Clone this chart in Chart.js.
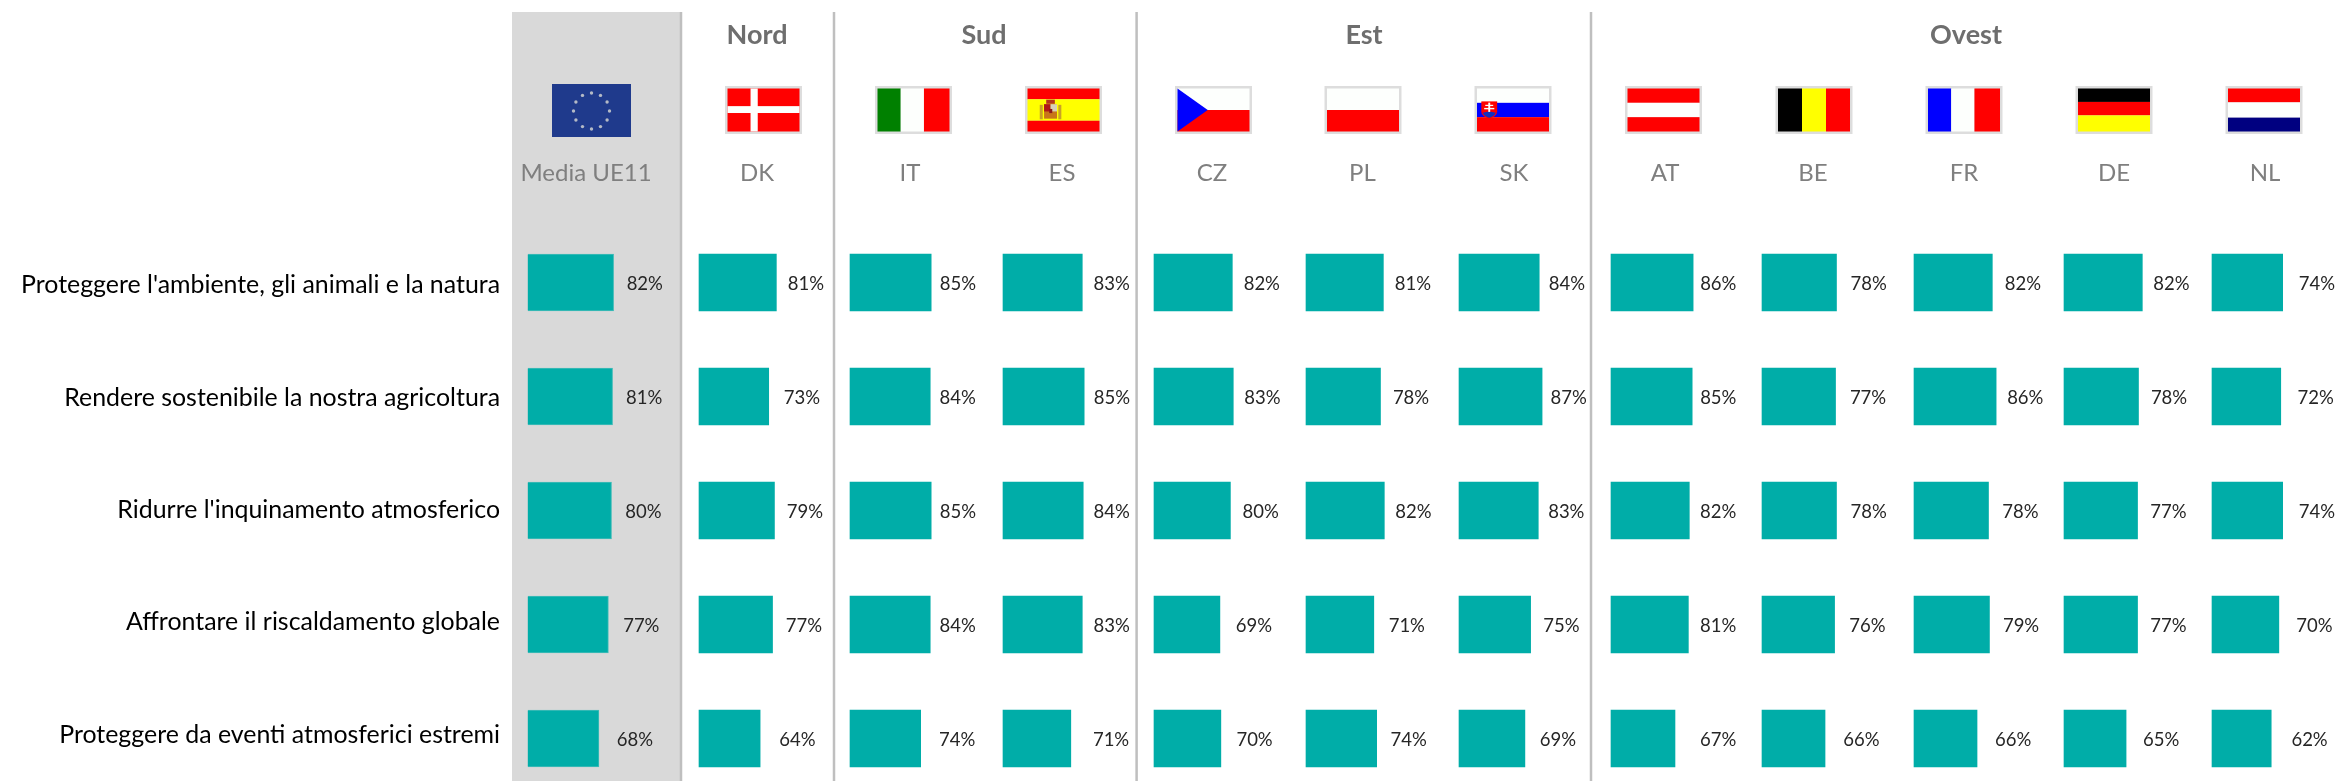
<!DOCTYPE html>
<html lang="it">
<head>
<meta charset="utf-8">
<title>Priorità ambientali</title>
<style>
html,body{margin:0;padding:0;background:#fff;width:2338px;height:781px;overflow:hidden}
canvas{display:block}
</style>
<script src="https://cdn.jsdelivr.net/npm/chart.js@4/dist/chart.umd.min.js"></script>
</head>
<body>
<canvas id="c" width="2338" height="781"></canvas>
<script>
// ---- data ----
const categories = [
  "Proteggere l'ambiente, gli animali e la natura",
  "Rendere sostenibile la nostra agricoltura",
  "Ridurre l'inquinamento atmosferico",
  "Affrontare il riscaldamento globale",
  "Proteggere da eventi atmosferici estremi"
];
const countries = ["Media UE11","DK","IT","ES","CZ","PL","SK","AT","BE","FR","DE","NL"];
const groups = ["Nord","Sud","Est","Ovest"];
const mediaUE11 = [82,81,80,77,68];
const dk = [81,73,79,77,64];
const it = [85,84,85,84,74];
const es = [83,85,84,83,71];
const cz = [82,83,80,69,70];
const pl = [81,78,82,71,74];
const sk = [84,87,83,75,69];
const at = [86,85,82,81,67];
const be = [78,77,78,76,66];
const fr = [82,86,78,79,66];
const de = [82,78,77,77,65];
const nl = [74,72,74,70,62];
const seriesValues = [mediaUE11,dk,it,es,cz,pl,sk,at,be,fr,de,nl];

// ---- layout (pixels, not data) ----
const colStart = [527.7,699,850,1003,1154,1306,1459,1611,1762,1914,2064,2212,2338];
const pxPerPct = [1.048,.955,.955,.955,.955,.955,.955,.955,.955,.955,.955,.955];
const codeX = [586,757,910,1062,1212,1362.4,1514,1665,1813,1964,2114,2265];
const flagX = [552,725,875,1025,1175,1324.5,1474.5,1625,1775.5,1925.5,2075.5,2225.5];
const labelGap = [13,11.5,8.5,9.5,11,11,8.5,7,14,11,11,16];
const labelSlope = [.35,.45,.9,.9,.35,.35,.35,.95,.35,.35,.35,.35];
const groupX = [757,984,1364,1966];
const dividers = [681,834,1136.6,1591];
const rowLabelNudge = [2.5,1,-1,-2.5,-3.5];
const TEAL = '#00ADA8';

const flags = {
  'DK':{dir:'h',c:['#FF0000'],w:[1]},
  'IT':{dir:'v',c:['#008000','#FDFFFD','#FF0000'],w:[1,1,1.1]},
  'ES':{dir:'h',c:['#FF0000','#FFFF00','#FF0000'],w:[1,2,1]},
  'CZ':{dir:'h',c:['#FDFFFD','#FF0000'],w:[1,1]},
  'PL':{dir:'h',c:['#FDFFFD','#FF0000'],w:[1,1]},
  'SK':{dir:'h',c:['#FDFFFD','#0000FF','#FF0000'],w:[1,1,1]},
  'AT':{dir:'h',c:['#FF0000','#FDFFFD','#FF0000'],w:[1,1,1]},
  'BE':{dir:'v',c:['#000000','#FFFF00','#FF0000'],w:[1,1,1]},
  'FR':{dir:'v',c:['#0000FF','#FDFFFD','#FF0000'],w:[1,1,1.1]},
  'DE':{dir:'h',c:['#000000','#FF0000','#FFFF00'],w:[1,1,1.2]},
  'NL':{dir:'h',c:['#FF0000','#FDFFFD','#000080'],w:[1,1.1,1]}
};

function drawFlag(ctx, code, x){
  if(code==='Media UE11'){
    const w=79,h=53,y=84;
    ctx.fillStyle='#1F3A8C'; ctx.fillRect(x,y,w,h);
    ctx.fillStyle='#B4BAC6';
    const cx=x+39.5, cy=y+27;
    for(let i=0;i<12;i++){
      const a=i*Math.PI/6;
      ctx.beginPath(); ctx.arc(cx+Math.sin(a)*18,cy-Math.cos(a)*18,1.7,0,Math.PI*2); ctx.fill();
    }
    return;
  }
  const W=77,H=48,Y=86,b=2.5;
  ctx.fillStyle='#DDDDDD'; ctx.fillRect(x,Y,W,H);
  const ix=x+b, iy=Y+b, iw=W-2*b, ih=H-2*b;
  const f=flags[code];
  const tot=f.w.reduce((a,v)=>a+v,0);
  let p=0;
  f.c.forEach((col,i)=>{
    ctx.fillStyle=col;
    const s=f.w[i]/tot;
    if(f.dir==='h') ctx.fillRect(ix,iy+p*ih,iw,s*ih);
    else ctx.fillRect(ix+p*iw,iy,s*iw,ih);
    p+=s;
  });
  if(code==='DK'){
    ctx.fillStyle='#FDFFFD';
    ctx.fillRect(ix+iw*.32,iy,iw*.1,ih);
    ctx.fillRect(ix,iy+ih*.41,iw,ih*.16);
  }
  if(code==='CZ'){
    ctx.fillStyle='#0000FF';
    ctx.beginPath(); ctx.moveTo(ix,iy); ctx.lineTo(ix+iw*.42,iy+ih/2); ctx.lineTo(ix,iy+ih); ctx.closePath(); ctx.fill();
  }
  if(code==='ES'){
    const sx=ix+iw*.17, sy=iy+ih*.26, u=iw*.3, v=ih*.48;
    ctx.fillStyle='#C9A227'; ctx.fillRect(sx,sy+v*.25,u*.14,v*.7); ctx.fillRect(sx+u*.86,sy+v*.25,u*.14,v*.7);
    ctx.fillStyle='#B5351C'; ctx.fillRect(sx+u*.3,sy,u*.4,v*.2);
    ctx.fillStyle='#C8761A'; ctx.fillRect(sx+u*.2,sy+v*.22,u*.6,v*.7);
    ctx.fillStyle='#B01818'; ctx.fillRect(sx+u*.2,sy+v*.22,u*.3,v*.35);
    ctx.fillStyle='#D8D0B8'; ctx.fillRect(sx+u*.5,sy+v*.22,u*.3,v*.35);
    ctx.fillStyle='#8A1A1A'; ctx.fillRect(sx+u*.44,sy+v*.45,u*.14,v*.2);
  }
  if(code==='SK'){
    ctx.fillStyle='#FF0000';
    const sx=ix+iw*.06, sy=iy+ih*.3, sw=iw*.22, sh=ih*.36;
    ctx.fillRect(sx,sy,sw,sh*.7);
    ctx.beginPath(); ctx.moveTo(sx,sy+sh*.7); ctx.quadraticCurveTo(sx+sw*.05,sy+sh,sx+sw/2,sy+sh*1.1); ctx.quadraticCurveTo(sx+sw*.95,sy+sh,sx+sw,sy+sh*.7); ctx.closePath(); ctx.fill();
    ctx.fillStyle='#1030C0';
    ctx.beginPath(); ctx.moveTo(sx+sw*.1,sy+sh*.75); ctx.quadraticCurveTo(sx+sw/2,sy+sh*.55,sx+sw*.9,sy+sh*.75); ctx.quadraticCurveTo(sx+sw*.8,sy+sh,sx+sw/2,sy+sh*1.05); ctx.quadraticCurveTo(sx+sw*.2,sy+sh,sx+sw*.1,sy+sh*.75); ctx.fill();
    ctx.fillStyle='#FDFFFD';
    ctx.fillRect(sx+sw*.44,sy+sh*.08,sw*.12,sh*.6);
    ctx.fillRect(sx+sw*.25,sy+sh*.22,sw*.5,sh*.08);
    ctx.fillRect(sx+sw*.18,sy+sh*.42,sw*.64,sh*.09);
  }
}

const decor = {
  id:'decor',
  beforeDatasetsDraw(chart){
    const ctx=chart.ctx;
    ctx.save();
    ctx.fillStyle='#D9D9D9';
    ctx.fillRect(512,12,169,769);
    ctx.fillStyle='#BFBFBF';
    dividers.forEach(x=>ctx.fillRect(x-1.25,12,2.5,769));
    // header
    ctx.textBaseline='middle'; ctx.textAlign='center';
    ctx.font='bold 27px Lato'; ctx.fillStyle='#6E6E6E';
    groups.forEach((g,i)=>ctx.fillText(g,groupX[i],35));
    countries.forEach((c,i)=>{
      drawFlag(ctx,c,flagX[i]);
      ctx.font='24px Lato'; ctx.fillStyle='#7F7F7F';
      ctx.fillText(c,codeX[i],173);
    });
    // row labels
    const y=chart.scales.y;
    ctx.textAlign='right'; ctx.font='24.9px Lato'; ctx.fillStyle='#000';
    categories.forEach((t,i)=>ctx.fillText(t,500,y.getPixelForValue(i)+rowLabelNudge[i]));
    ctx.restore();
  },
  afterDatasetsDraw(chart){
    const ctx=chart.ctx;
    ctx.save();
    ctx.textBaseline='middle'; ctx.textAlign='left';
    ctx.font='18.5px Lato'; ctx.fillStyle='#262626';
    chart.data.datasets.forEach((ds,k)=>{
      const top=Math.max(...ds.data);
      chart.getDatasetMeta(k).data.forEach((el,i)=>{
        const gap=labelGap[k]+(top-ds.data[i])*labelSlope[k];
        ctx.fillText(ds.data[i]+'%',el.x+gap,el.y+2);
      });
    });
    ctx.restore();
  }
};

const scales = {
  y:{type:'category',display:false,offset:false,labels:categories}
};
countries.forEach((c,k)=>{
  const w=colStart[k+1]-colStart[k];
  scales['x'+k]={type:'linear',position:'bottom',stack:'cols',stackWeight:w,display:false,min:0,max:w/pxPerPct[k]};
});

new Chart(document.getElementById('c'),{
  type:'bar',
  data:{
    labels:categories,
    datasets:countries.map((c,k)=>({
      label:c,
      data:seriesValues[k],
      xAxisID:'x'+k,
      yAxisID:'y',
      backgroundColor:TEAL,
      borderColor:k===0?'#45BDB9':TEAL,
      borderWidth:k===0?1:0,
      barThickness:57,
      grouped:false,
      clip:false
    }))
  },
  options:{
    indexAxis:'y',
    responsive:false,
    animation:false,
    layout:{padding:{left:527.7,right:0,top:282.5,bottom:42.5}},
    plugins:{legend:{display:false},tooltip:{enabled:false},title:{display:false}},
    scales
  },
  plugins:[decor]
});
</script>
</body>
</html>
